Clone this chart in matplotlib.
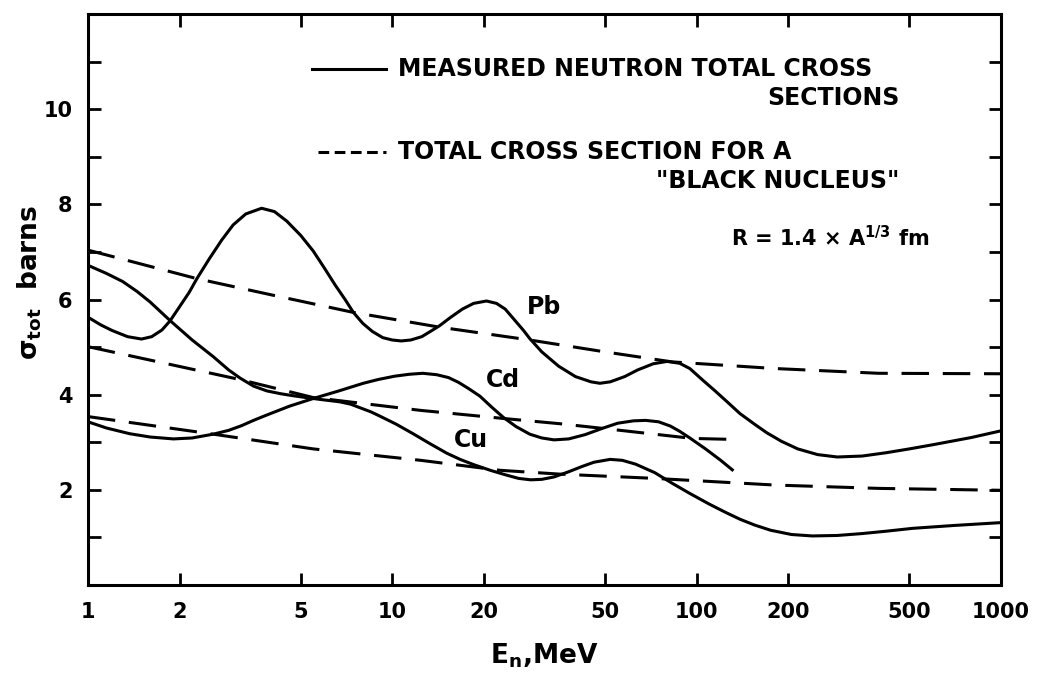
import matplotlib
matplotlib.use("Agg")
import matplotlib.pyplot as plt

# neutron energy (MeV) and total cross section (barns)
pb_E = [1.0, 1.1, 1.2, 1.35, 1.5, 1.62, 1.75, 1.86, 2.0, 2.15, 2.28, 2.5, 2.75, 3.0, 3.3,
        3.72, 4.1, 4.5, 5.0, 5.5, 6.0, 6.5, 7.0, 7.45, 8.0, 8.6, 9.3, 10.0, 10.7, 11.5,
        12.5, 13.5, 14.3, 15.5, 17, 18.5, 20.4, 22, 23.5, 25, 27, 28.3, 31, 35.2, 40,
        45, 48.1, 52, 58, 64, 72, 80, 88, 95, 105, 115, 127, 139, 155, 170,
        190, 215, 250, 290, 350, 420, 500, 600, 800, 1000]
pb_sig = [5.63, 5.47, 5.35, 5.22, 5.17, 5.22, 5.36, 5.55, 5.85, 6.15, 6.44, 6.85, 7.25, 7.57, 7.8,
          7.92, 7.85, 7.65, 7.35, 7.02, 6.65, 6.3, 6.0, 5.73, 5.5, 5.33, 5.2, 5.15, 5.13, 5.15,
          5.22, 5.35, 5.45, 5.62, 5.8, 5.92, 5.97, 5.92, 5.8, 5.6, 5.35, 5.18, 4.9, 4.6, 4.38,
          4.27, 4.24, 4.27, 4.38, 4.52, 4.65, 4.7, 4.66, 4.55, 4.3, 4.08, 3.83, 3.6, 3.38, 3.2,
          3.02, 2.86, 2.74, 2.69, 2.71, 2.78, 2.86, 2.95, 3.1, 3.24]

cd_E = [1.0, 1.15, 1.37, 1.6, 1.91, 2.2, 2.58, 2.9, 3.2, 3.5, 3.86, 4.6, 5.5, 6.6, 8.03,
        9.0, 10.2, 11.4, 12.6, 14, 15.3, 16.5, 17.8, 19.4, 21.2, 23.2, 25.5, 28.3, 31, 34,
        38, 43, 49.4, 55, 62, 68, 75, 82, 88, 95, 107, 120, 131]
cd_sig = [3.43, 3.3, 3.18, 3.11, 3.07, 3.09, 3.17, 3.25, 3.35, 3.46, 3.57, 3.76, 3.92, 4.07, 4.24,
          4.32, 4.39, 4.43, 4.45, 4.42, 4.36, 4.26, 4.13, 3.97, 3.74, 3.52, 3.33, 3.17, 3.09, 3.05,
          3.07, 3.16, 3.3, 3.4, 3.45, 3.46, 3.43, 3.34, 3.23, 3.09, 2.86, 2.62, 2.42]

cu_E = [1.0, 1.15, 1.3, 1.45, 1.6, 1.86, 2.2, 2.58, 2.9, 3.16, 3.5, 3.87, 4.3, 4.7, 5.2,
        5.8, 6.72, 7.3, 7.8, 8.5, 9.1, 10.3, 11.7, 13.3, 15.1, 16.7, 18.5, 21, 23.7, 26,
        28.5, 31, 34, 38, 42, 46, 52, 57, 63, 72.9, 83, 94.6, 110, 125, 139,
        155, 175, 205, 240, 290, 350, 420, 513, 700, 1000]
cu_sig = [6.72, 6.55, 6.38, 6.17, 5.95, 5.56, 5.15, 4.8, 4.52, 4.35, 4.18, 4.08, 4.02, 3.98, 3.94,
          3.9, 3.85, 3.8, 3.73, 3.64, 3.55, 3.38, 3.18, 2.97, 2.77, 2.64, 2.53, 2.41, 2.31, 2.24,
          2.21, 2.22, 2.27, 2.38, 2.49, 2.58, 2.64, 2.62, 2.54, 2.36, 2.14, 1.93, 1.7, 1.52, 1.38,
          1.26, 1.15, 1.06, 1.03, 1.04, 1.08, 1.13, 1.19, 1.25, 1.31]

# "black nucleus" curves
pb_black_E = [1, 2.28, 4.0, 7.45, 14.3, 28.3, 50, 83, 181, 396, 1000]
pb_black_sig = [7.04, 6.44, 6.1, 5.73, 5.42, 5.15, 4.9, 4.69, 4.55, 4.45, 4.44]
cd_black_E = [1, 3.15, 5.5, 12.4, 23.2, 35.5, 49.4, 97, 132]
cd_black_sig = [5.01, 4.32, 3.94, 3.67, 3.5, 3.39, 3.29, 3.08, 3.06]
cu_black_E = [1, 2.58, 5.5, 12.4, 22.6, 35.5, 72.9, 181, 396, 1000]
cu_black_sig = [3.54, 3.17, 2.86, 2.62, 2.41, 2.33, 2.24, 2.1, 2.03, 1.99]

x_ticks = [1, 2, 5, 10, 20, 50, 100, 200, 500, 1000]
y_ticks = [2, 4, 6, 8, 10]

plt.rcParams['font.family'] = ['DejaVu Sans']
plt.rcParams['font.weight'] = 'bold'

fig = plt.figure(figsize=(10.41, 6.77), dpi=100)
ax = fig.add_axes([0.0845, 0.136, 0.877, 0.843])

lw = 2.2
dash = (9, 4.5)
ax.plot(pb_E, pb_sig, color='black', lw=lw)
ax.plot(cd_E, cd_sig, color='black', lw=lw)
ax.plot(cu_E, cu_sig, color='black', lw=lw)
for E, s in [(pb_black_E, pb_black_sig), (cd_black_E, cd_black_sig), (cu_black_E, cu_black_sig)]:
    ax.plot(E, s, color='black', lw=lw, dashes=dash)

ax.set_xscale('log')
ax.set_xlim(1, 1000)
ax.set_ylim(0, 12)
ax.set_xticks(x_ticks)
ax.set_xticklabels([str(v) for v in x_ticks])
ax.xaxis.set_minor_locator(matplotlib.ticker.NullLocator())
ax.set_yticks(range(1, 12))
ax.set_yticklabels([str(v) if v in y_ticks else '' for v in range(1, 12)])
ax.tick_params(direction='in', length=9, width=2, labelsize=15, top=True, right=True)
ax.tick_params(axis='x', pad=12)
ax.tick_params(axis='y', pad=11)
for sp in ax.spines.values():
    sp.set_linewidth(2.2)

ax.set_xlabel(r'E$_\mathregular{n}$,MeV', fontsize=19, fontweight='bold', labelpad=14)
ax.set_ylabel(r'$\mathbf{\sigma_{tot}}$  barns', fontsize=19, fontweight='bold', labelpad=8)
ax.yaxis.set_label_coords(-0.048, 0.53)

# curve labels
ax.text(31.5, 5.85, 'Pb', fontsize=17, ha='center', va='center')
ax.text(23.1, 4.3, 'Cd', fontsize=17, ha='center', va='center')
ax.text(18.2, 3.05, 'Cu', fontsize=17, ha='center', va='center')

# key
fs = 17
ax.plot([0.245, 0.326], [0.904, 0.904], color='black', lw=lw, transform=ax.transAxes)
ax.text(0.34, 0.904, 'MEASURED NEUTRON TOTAL CROSS', fontsize=fs, ha='left', va='center',
        transform=ax.transAxes)
ax.text(0.889, 0.854, 'SECTIONS', fontsize=fs, ha='right', va='center', transform=ax.transAxes)
ax.plot([0.252, 0.326], [0.758, 0.758], color='black', lw=lw, dashes=(3.5, 1.8),
        transform=ax.transAxes)
ax.text(0.34, 0.758, 'TOTAL CROSS SECTION FOR A', fontsize=fs, ha='left', va='center',
        transform=ax.transAxes)
ax.text(0.889, 0.708, '"BLACK NUCLEUS"', fontsize=fs, ha='right', va='center',
        transform=ax.transAxes)
ax.text(0.922, 0.608, r'R = 1.4 $\times$ A$^{\mathregular{1/3}}$ fm', fontsize=fs - 2, ha='right',
        va='center', transform=ax.transAxes)

fig.savefig('out.png', dpi=100)
